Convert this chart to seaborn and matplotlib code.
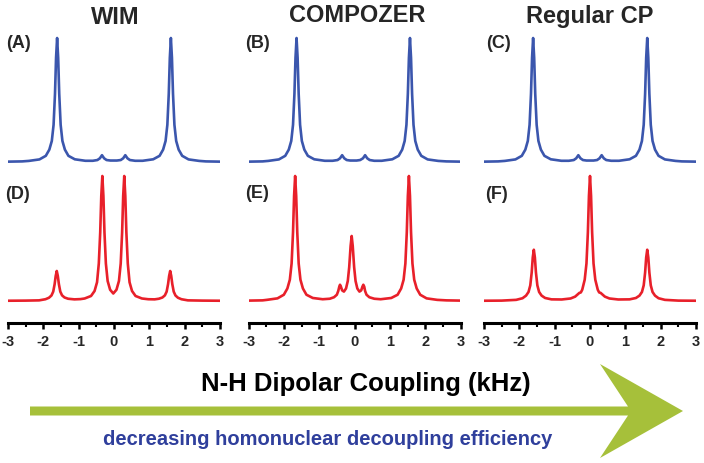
import matplotlib
matplotlib.use("Agg")
import matplotlib.pyplot as plt
from matplotlib.patches import Polygon
from matplotlib.ticker import MultipleLocator
import seaborn as sns

# column titles, panel labels, axis ticks
titles = ["WIM", "COMPOZER", "Regular CP"]
top_labels = ["(A)", "(B)", "(C)"]
bottom_labels = ["(D)", "(E)", "(F)"]
ticks = [-3, -2, -1, 0, 1, 2, 3]

# spectra (x in kHz, intensity scaled to tallest peak)
# (A) WIM
x_a = [-3.0, -2.6, -2.41, -2.11, -1.93, -1.83, -1.76, -1.71, -1.67, -1.64, -1.61, -1.58, -1.55,
       -1.51, -1.46, -1.39, -1.29, -1.11, -0.81, -0.6, -0.47, -0.4, -0.34, -0.28, -0.21, -0.1,
       -0.01, 0.08, 0.19, 0.26, 0.32, 0.38, 0.45, 0.6, 0.81, 1.11, 1.29, 1.39, 1.46, 1.51, 1.55,
       1.58, 1.61, 1.64, 1.67, 1.71, 1.76, 1.83, 1.93, 2.11, 2.41, 2.6, 3.0]
y_a = [0.003, 0.005, 0.009, 0.021, 0.05, 0.1, 0.17, 0.3, 0.55, 0.84, 1.0, 0.84, 0.55,
       0.3, 0.17, 0.1, 0.05, 0.022, 0.01, 0.01, 0.016, 0.03, 0.055, 0.03, 0.016, 0.012,
       0.012, 0.012, 0.016, 0.03, 0.055, 0.03, 0.016, 0.01, 0.01, 0.022, 0.05, 0.1, 0.17, 0.3, 0.55,
       0.84, 1.0, 0.84, 0.55, 0.3, 0.17, 0.1, 0.05, 0.021, 0.009, 0.005, 0.003]
# (B) COMPOZER
x_b = [-3.0, -2.6, -2.44, -2.14, -1.96, -1.86, -1.79, -1.74, -1.7, -1.67, -1.64, -1.61, -1.58,
       -1.54, -1.49, -1.42, -1.32, -1.14, -0.84, -0.62, -0.48, -0.41, -0.35, -0.29, -0.22, -0.12,
       -0.03, 0.06, 0.16, 0.24, 0.30, 0.36, 0.43, 0.56, 0.77, 1.07, 1.25, 1.35, 1.42, 1.47, 1.51,
       1.54, 1.57, 1.6, 1.63, 1.67, 1.72, 1.79, 1.89, 2.07, 2.37, 2.6, 3.0]
y_b = y_a
# (C) Regular CP
x_c = [-3.0, -2.6, -2.41, -2.11, -1.93, -1.83, -1.76, -1.71, -1.67, -1.64, -1.61, -1.58, -1.55,
       -1.51, -1.46, -1.39, -1.29, -1.11, -0.81, -0.6, -0.46, -0.39, -0.33, -0.27, -0.2, -0.1,
       0.0, 0.1, 0.2, 0.27, 0.33, 0.39, 0.46, 0.6, 0.82, 1.12, 1.3, 1.4, 1.47, 1.52, 1.56,
       1.59, 1.62, 1.65, 1.68, 1.72, 1.77, 1.84, 1.94, 2.12, 2.42, 2.6, 3.0]
y_c = y_a

# (D) WIM
x_d = [-3.0, -2.5, -2.12, -1.94, -1.84, -1.77, -1.72, -1.68, -1.65, -1.62, -1.59, -1.56, -1.52,
       -1.47, -1.4, -1.3, -1.12, -0.95, -0.83, -0.65, -0.55, -0.48, -0.43, -0.39, -0.36, -0.33,
       -0.3, -0.27, -0.23, -0.18, -0.11, -0.02, 0.07, 0.14, 0.19, 0.23, 0.26, 0.29, 0.32, 0.35,
       0.39, 0.44, 0.51, 0.61, 0.79, 0.97, 1.15, 1.27, 1.37, 1.44, 1.49, 1.53, 1.56, 1.59, 1.62,
       1.65, 1.69, 1.74, 1.81, 1.91, 2.09, 2.5, 3.0]
y_d = [0.002, 0.003, 0.005, 0.014, 0.026, 0.044, 0.075, 0.135, 0.2, 0.24, 0.2, 0.135, 0.075,
       0.045, 0.028, 0.018, 0.013, 0.015, 0.02, 0.04, 0.08, 0.15, 0.3, 0.55, 0.84, 1.0,
       0.84, 0.55, 0.3, 0.16, 0.09, 0.06, 0.09, 0.16, 0.3, 0.55, 0.84, 1.0, 0.84, 0.55,
       0.3, 0.15, 0.08, 0.04, 0.02, 0.014, 0.013, 0.018, 0.028, 0.045, 0.075, 0.135, 0.2, 0.24, 0.2,
       0.135, 0.075, 0.044, 0.026, 0.014, 0.005, 0.003, 0.002]
# (E) COMPOZER
x_e = [-3.0, -2.6, -2.48, -2.18, -2.0, -1.9, -1.83, -1.78, -1.74, -1.71, -1.68, -1.65, -1.62,
       -1.58, -1.53, -1.46, -1.36, -1.18, -0.9, -0.7, -0.58, -0.5, -0.46, -0.43, -0.41, -0.385,
       -0.35, -0.3, -0.24, -0.19, -0.15, -0.11, -0.08, -0.05, -0.01, 0.03, 0.08, 0.14, 0.19, 0.225,
       0.25, 0.275, 0.3, 0.34, 0.42, 0.56, 0.74, 1.04, 1.22, 1.32, 1.39, 1.44, 1.48, 1.51, 1.54,
       1.57, 1.6, 1.64, 1.69, 1.76, 1.86, 2.04, 2.34, 2.6, 3.0]
y_e = [0.003, 0.005, 0.009, 0.021, 0.05, 0.1, 0.17, 0.3, 0.55, 0.84, 1.0, 0.84, 0.55,
       0.3, 0.17, 0.1, 0.05, 0.024, 0.014, 0.018, 0.03, 0.05, 0.08, 0.115, 0.13, 0.115,
       0.085, 0.075, 0.1, 0.16, 0.27, 0.44, 0.52, 0.44, 0.27, 0.16, 0.1, 0.075, 0.085, 0.115,
       0.13, 0.115, 0.08, 0.05, 0.03, 0.018, 0.014, 0.024, 0.05, 0.1, 0.17, 0.3, 0.55, 0.84, 1.0,
       0.84, 0.55, 0.3, 0.17, 0.1, 0.05, 0.021, 0.009, 0.005, 0.003]
# (F) Regular CP
x_f = [-3.0, -2.5, -2.09, -1.91, -1.81, -1.74, -1.69, -1.65, -1.62, -1.59, -1.56, -1.53, -1.49,
       -1.44, -1.37, -1.27, -1.09, -0.8, -0.55, -0.42, -0.34, -0.3, -0.26, -0.22, -0.15, -0.1,
       -0.06, -0.03, 0.0, 0.03, 0.06, 0.1, 0.15, 0.22, 0.26, 0.3, 0.34, 0.42, 0.55, 0.8, 1.12,
       1.3, 1.4, 1.47, 1.52, 1.56, 1.59, 1.62, 1.65, 1.68, 1.72, 1.77, 1.84, 1.94, 2.12, 2.5, 3.0]
y_f = [0.002, 0.003, 0.009, 0.022, 0.043, 0.072, 0.125, 0.228, 0.348, 0.41, 0.348, 0.228, 0.125,
       0.072, 0.043, 0.024, 0.013, 0.012, 0.02, 0.035, 0.055, 0.065, 0.068, 0.09, 0.17, 0.3,
       0.55, 0.84, 1.0, 0.84, 0.55, 0.3, 0.17, 0.09, 0.068, 0.065, 0.055, 0.035, 0.02, 0.012, 0.013,
       0.024, 0.043, 0.072, 0.125, 0.228, 0.348, 0.41, 0.348, 0.228, 0.125, 0.072, 0.043, 0.022, 0.009, 0.003, 0.002]

top_x = [x_a, x_b, x_c]
top_y = [y_a, y_b, y_c]
bottom_x = [x_d, x_e, x_f]
bottom_y = [y_d, y_e, y_f]

blue = "#3b56ad"
red = "#e8202a"
green = "#a6c03a"
navy = "#2f3f9c"

sns.set_style("white")
plt.rcParams["font.family"] = ["Liberation Sans", "DejaVu Sans"]
plt.rcParams["font.weight"] = "bold"

W, H = 704, 464
fig = plt.figure(figsize=(W / 100, H / 100), dpi=100)

# arrow + text layer in pixel coordinates
bg = fig.add_axes([0, 0, 1, 1])
bg.set_xlim(0, W)
bg.set_ylim(H, 0)
bg.axis("off")
arrow = [(30, 407.5), (628, 407.5), (600, 365), (683, 412), (600, 459), (628, 416.5), (30, 416.5)]
bg.add_patch(Polygon(arrow, closed=True, color=green, lw=0))
bg.text(366, 384, "N-H Dipolar Coupling (kHz)", ha="center", va="center",
        fontsize=18.5, fontweight="bold", color="black")
bg.text(328, 440, "decreasing homonuclear decoupling efficiency", ha="center", va="center",
        fontsize=14.5, fontweight="bold", color=navy)

lefts = [8, 248.5, 484]
width = 212
title_pos = [(115, 17), (357, 16), (590, 16)]
top_lab_pos = [(6, 44), (245, 44), (486, 44)]
bot_lab_pos = [(5, 195), (245, 194), (485, 195)]

for i in range(3):
    ax_t = fig.add_axes([lefts[i] / W, 0.6353, width / W, 0.294])
    sns.lineplot(x=top_x[i], y=top_y[i], ax=ax_t, color=blue, linewidth=1.9)
    ax_b = fig.add_axes([lefts[i] / W, 0.3357, width / W, 0.2963])
    sns.lineplot(x=bottom_x[i], y=bottom_y[i], ax=ax_b, color=red, linewidth=1.9)

    for ax in (ax_t, ax_b):
        ax.set_xlim(-3, 3)
        ax.set_ylim(-0.05, 1.05)
        ax.patch.set_alpha(0)
        ax.set_yticks([])
        ax.set_xlabel("")
        ax.set_ylabel("")
        for s in ax.spines.values():
            s.set_visible(False)
    ax_t.set_xticks([])

    ax_b.spines["bottom"].set_visible(True)
    ax_b.spines["bottom"].set_position(("outward", 11.3))
    ax_b.spines["bottom"].set_linewidth(2.2)
    ax_b.spines["bottom"].set_color("black")
    ax_b.set_xticks(ticks)
    ax_b.set_xticklabels([str(t) for t in ticks], fontsize=10.5, fontweight="bold")
    ax_b.xaxis.set_minor_locator(MultipleLocator(0.5))
    ax_b.tick_params(axis="x", which="major", direction="out", length=4.5, width=1.8,
                     pad=3.5, color="black", bottom=True)
    ax_b.tick_params(axis="x", which="minor", direction="out", length=3, width=1.5,
                     color="black", bottom=True)

    bg.text(*title_pos[i], titles[i], ha="center", va="center", fontsize=17, fontweight="bold")
    bg.text(*top_lab_pos[i], top_labels[i], ha="left", va="center", fontsize=13, fontweight="bold")
    bg.text(*bot_lab_pos[i], bottom_labels[i], ha="left", va="center", fontsize=13, fontweight="bold")

fig.savefig("out.png", dpi=100)
